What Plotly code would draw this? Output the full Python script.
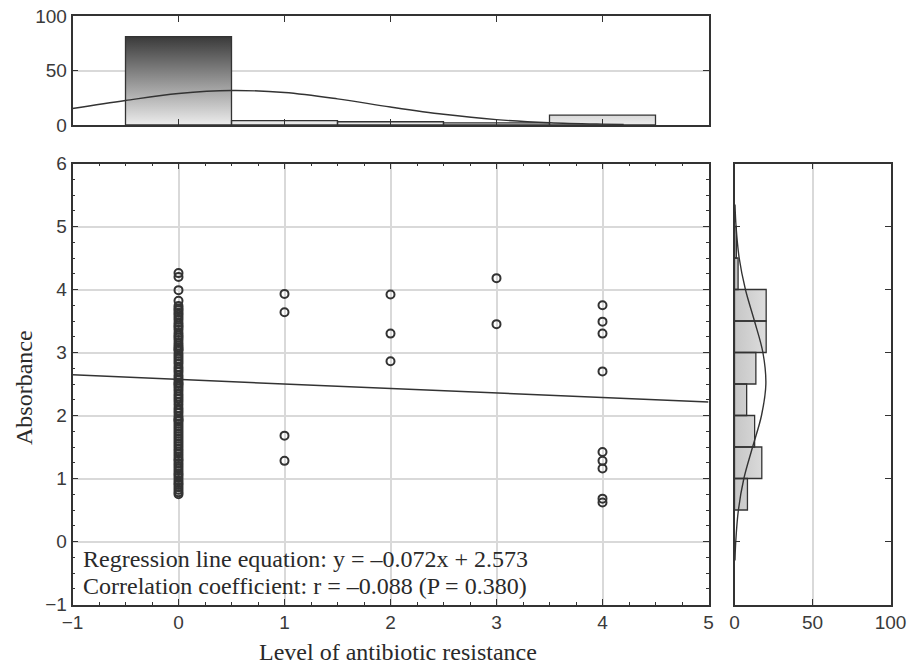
import plotly.graph_objects as go

# ---------------- data ----------------
levels = [0, 1, 2, 3, 4]
absorb_level0 = [4.26, 4.20, 3.99, 3.82, 3.74, 3.70, 3.67, 3.63, 3.60, 3.56, 3.52, 3.47,
                 3.43, 3.40, 3.36, 3.31, 3.27, 3.24, 3.20, 3.15, 3.11, 3.08, 3.05, 3.03,
                 2.98, 2.94, 2.90, 2.86, 2.82, 2.77, 2.73, 2.69, 2.64, 2.60, 2.56, 2.52,
                 2.50, 2.47, 2.43, 2.39, 2.34, 2.30, 2.26, 2.22, 2.17, 2.12, 2.08, 2.04,
                 1.99, 1.95, 1.93, 1.91, 1.87, 1.83, 1.79, 1.75, 1.71, 1.67, 1.63, 1.59,
                 1.55, 1.51, 1.47, 1.43, 1.39, 1.35, 1.31, 1.28, 1.24, 1.20, 1.16, 1.12,
                 1.08, 1.05, 1.01, 0.97, 0.93, 0.90, 0.86, 0.82, 0.78, 0.75]
absorb_level1 = [3.93, 3.64, 1.68, 1.28]
absorb_level2 = [3.92, 3.30, 2.86]
absorb_level3 = [4.18, 3.45]
absorb_level4 = [3.75, 3.49, 3.30, 2.70, 1.42, 1.28, 1.16, 0.68, 0.62]

# regression line (from the printed equation)
reg_slope = -0.072
reg_intercept = 2.573
reg_x_range = [-1, 5]

# top histogram (counts per resistance level)
top_hist_centers = [0, 1, 2, 3, 4]
top_hist_counts = [81, 4, 3, 2, 9]
# fitted normal curve over the top histogram
top_curve_x = [-1.0, -0.5, 0.0, 0.5, 1.0, 1.5, 2.0, 2.5, 3.0, 3.5, 4.0, 4.2]
top_curve_y = [15.1, 22.5, 28.9, 31.7, 29.8, 24.0, 16.5, 9.8, 4.9, 2.1, 0.8, 0.5]

# right histogram (counts per absorbance bin, width 0.5)
right_bin_centers = [0.75, 1.25, 1.75, 2.25, 2.75, 3.25, 3.75, 4.25, 4.75]
right_bin_counts = [8.3, 17.5, 12.9, 7.8, 13.7, 20.3, 20.3, 2.3, 1.2]
right_bin_width = 0.5
right_curve_y = [-0.3, 0.0, 0.5, 1.0, 1.5, 2.0, 2.5, 3.0, 3.5, 4.0, 4.5, 5.0, 5.35]
right_curve_x = [0.3, 0.8, 2.5, 6.0, 11.6, 17.3, 20.1, 18.2, 12.8, 7.0, 3.0, 1.0, 0.3]

# tick labels
main_x_ticks = [-1, 0, 1, 2, 3, 4, 5]
main_y_ticks = [-1, 0, 1, 2, 3, 4, 5, 6]
count_ticks = [0, 50, 100]

# ---------------- styling ----------------
INK = "#333333"
GRID = "#d9d9d9"
TICKFONT = dict(family="Liberation Sans, Arial, sans-serif", size=19, color="#3a3a3a")
SERIF = "Liberation Serif, Times New Roman, serif"

fig = go.Figure()

# scatter points
xs, ys = [], []
for lvl, vals in zip(levels, [absorb_level0, absorb_level1, absorb_level2,
                              absorb_level3, absorb_level4]):
    xs += [lvl] * len(vals)
    ys += vals
fig.add_trace(go.Scatter(
    x=xs, y=ys, mode="markers", xaxis="x", yaxis="y",
    marker=dict(symbol="circle-open", size=8, color=INK, line=dict(width=2, color=INK)),
    showlegend=False, hoverinfo="skip"))

# regression line
fig.add_trace(go.Scatter(
    x=reg_x_range, y=[reg_intercept + reg_slope * v for v in reg_x_range],
    mode="lines", line=dict(color=INK, width=1.5), xaxis="x", yaxis="y",
    showlegend=False, hoverinfo="skip"))

# top histogram bars (polygons so they can carry a gradient fill)
tx, ty = [], []
for c, h in zip(top_hist_centers, top_hist_counts):
    tx += [c - 0.5, c - 0.5, c + 0.5, c + 0.5, c - 0.5, None]
    ty += [0, h, h, 0, 0, None]
fig.add_trace(go.Scatter(
    x=tx, y=ty, mode="lines", fill="toself", xaxis="x2", yaxis="y2",
    line=dict(color=INK, width=1.3),
    fillgradient=dict(type="vertical",
                      colorscale=[[0, "#ececec"], [1, "#3a3a3a"]],
                      start=0, stop=max(top_hist_counts)),
    showlegend=False, hoverinfo="skip"))
fig.add_trace(go.Scatter(
    x=top_curve_x, y=top_curve_y, mode="lines", line=dict(color=INK, width=1.4, shape="spline"),
    xaxis="x2", yaxis="y2", showlegend=False, hoverinfo="skip"))

# right histogram bars
rx, ry = [], []
hw = right_bin_width / 2
for c, n in zip(right_bin_centers, right_bin_counts):
    rx += [0, n, n, 0, 0, None]
    ry += [c - hw, c - hw, c + hw, c + hw, c - hw, None]
fig.add_trace(go.Scatter(
    x=rx, y=ry, mode="lines", fill="toself", xaxis="x3", yaxis="y3",
    line=dict(color=INK, width=1.3),
    fillgradient=dict(type="horizontal",
                      colorscale=[[0, "#c6c6c6"], [1, "#dedede"]],
                      start=0, stop=21),
    showlegend=False, hoverinfo="skip"))
fig.add_trace(go.Scatter(
    x=right_curve_x, y=right_curve_y, mode="lines",
    line=dict(color=INK, width=1.4, shape="spline"),
    xaxis="x3", yaxis="y3", showlegend=False, hoverinfo="skip"))

main_xdom = [72.5 / 911, 708.5 / 911]
main_ydom = [1 - 604.5 / 668, 1 - 163.5 / 668]
top_ydom = [1 - 125 / 668, 1 - 16 / 668]
right_xdom = [734.5 / 911, 890.5 / 911]

axis_common = dict(showline=True, linecolor=INK, linewidth=1.6, mirror="ticks",
                   zeroline=False, ticks="inside", ticklen=6, tickwidth=1.2,
                   tickcolor=INK, tickfont=TICKFONT, automargin=False)

fig.update_layout(
    template="none",
    width=911, height=668,
    margin=dict(l=0, r=0, t=0, b=0, autoexpand=False),
    paper_bgcolor="white", plot_bgcolor="white",
    xaxis=dict(domain=main_xdom, range=[-1, 5], anchor="y",
               tickvals=main_x_ticks, showgrid=True, gridcolor=GRID, gridwidth=1.5,
               minor=dict(dtick=0.25, ticks="inside", ticklen=3, tickcolor=INK, showgrid=False),
               **axis_common),
    yaxis=dict(domain=main_ydom, range=[-1, 6], anchor="x",
               tickvals=main_y_ticks, showgrid=True, gridcolor=GRID, gridwidth=1.5,
               minor=dict(dtick=0.25, ticks="inside", ticklen=3, tickcolor=INK, showgrid=False),
               **axis_common),
    xaxis2=dict(domain=main_xdom, range=[-1, 5], anchor="y2",
                tickvals=main_x_ticks, showticklabels=False, showgrid=False,
                **axis_common),
    yaxis2=dict(domain=top_ydom, range=[0, 100], anchor="x2",
                tickvals=count_ticks, showgrid=True, gridcolor=GRID, gridwidth=1.5,
                **axis_common),
    xaxis3=dict(domain=right_xdom, range=[0, 100], anchor="y3",
                tickvals=count_ticks, showgrid=True, gridcolor=GRID, gridwidth=1.5,
                **axis_common),
    yaxis3=dict(domain=main_ydom, range=[-1, 6], anchor="x3",
                tickvals=main_y_ticks, showticklabels=False, showgrid=False,
                **axis_common),
    annotations=[
        dict(text="Level of antibiotic resistance", xref="paper", yref="paper",
             x=398 / 911, y=1 - 652 / 668, showarrow=False,
             font=dict(family=SERIF, size=24, color="#2a2a2a"),
             xanchor="center", yanchor="middle"),
        dict(text="Absorbance", xref="paper", yref="paper",
             x=24 / 911, y=1 - 388 / 668, showarrow=False, textangle=-90,
             font=dict(family=SERIF, size=24, color="#2a2a2a"),
             xanchor="center", yanchor="middle"),
        dict(text="Regression line equation: y = \u20130.072x + 2.573",
             xref="paper", yref="paper", x=81 / 911, y=1 - 559 / 668,
             showarrow=False, align="left", xanchor="left", yanchor="middle",
             font=dict(family=SERIF, size=24, color="#2a2a2a")),
        dict(text="Correlation coefficient: r = \u20130.088 (P = 0.380)",
             xref="paper", yref="paper", x=81 / 911, y=1 - 586 / 668,
             showarrow=False, align="left", xanchor="left", yanchor="middle",
             font=dict(family=SERIF, size=24, color="#2a2a2a")),
    ],
)

fig.write_html("out.html")
